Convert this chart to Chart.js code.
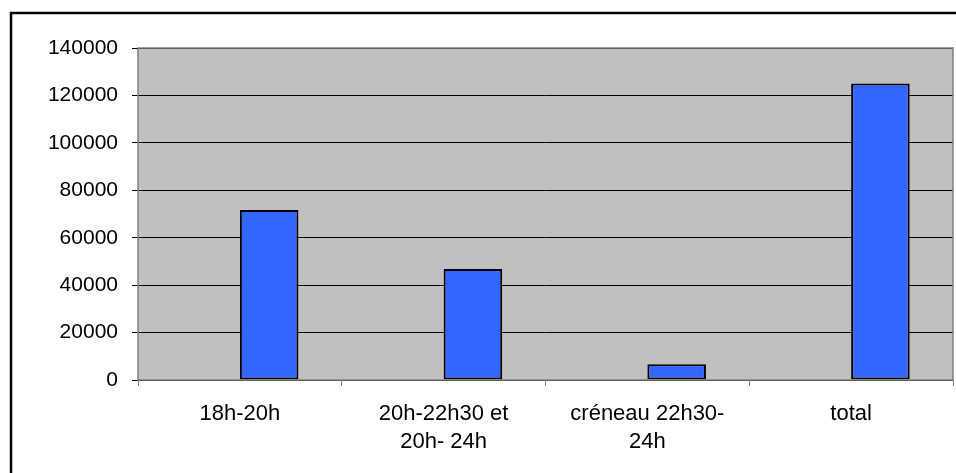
<!DOCTYPE html>
<html>
<head>
<meta charset="utf-8">
<script src="https://cdn.jsdelivr.net/npm/chart.js@4/dist/chart.umd.min.js"></script>
<style>
  html, body { margin: 0; padding: 0; background: #ffffff; }
  #wrap { width: 956px; height: 473px; }
</style>
</head>
<body>
<div id="wrap"><canvas id="graphique" width="956" height="473"></canvas></div>
<script>
// Données
const categories = ['18h-20h', ['20h-22h30 et', '20h- 24h'], ['créneau 22h30-', '24h'], 'total'];
const serieVide = [null, null, null, null];
const valeurs = [71700, 46800, 6600, 125000];
const graduations = [0, 20000, 40000, 60000, 80000, 100000, 120000, 140000];

// fond gris de la zone de tracé + cadre extérieur
const fondPlugin = {
  id: 'fond',
  beforeDraw(chart) {
    const ctx = chart.ctx;
    const a = chart.chartArea;
    ctx.save();
    ctx.fillStyle = '#ffffff';
    ctx.fillRect(0, 0, chart.width, chart.height);
    ctx.fillStyle = '#c0c0c0';
    ctx.fillRect(a.left, a.top, a.right - a.left, a.bottom - a.top);
    ctx.strokeStyle = '#000000';
    ctx.lineWidth = 2.5;
    ctx.beginPath();
    ctx.moveTo(11, 480);
    ctx.lineTo(11, 13);
    ctx.lineTo(970, 13);
    ctx.stroke();
    ctx.restore();
  },
  afterDatasetsDraw(chart) {
    const ctx = chart.ctx;
    const a = chart.chartArea;
    ctx.save();
    ctx.strokeStyle = '#808080';
    ctx.lineWidth = 1.5;
    ctx.strokeRect(a.left, a.top, a.right - a.left, a.bottom - a.top);
    ctx.restore();
  }
};

const canvasGraphique = document.getElementById('graphique').getContext('2d');

const graphique = new Chart(canvasGraphique, {
  type: 'bar',
  data: {
    labels: categories,
    datasets: [
      {
        label: 'vide',
        data: serieVide,
        backgroundColor: '#3366ff'
      },
      {
        label: 'valeurs',
        data: valeurs,
        backgroundColor: '#3366ff',
        borderColor: '#000000',
        borderWidth: 2,
        borderSkipped: false
      }
    ]
  },
  options: {
    responsive: false,
    animation: false,
    layout: { padding: { top: 48, right: 3, bottom: 0, left: 0 } },
    datasets: {
      bar: { categoryPercentage: 0.575, barPercentage: 1 }
    },
    scales: {
      y: {
        min: 0,
        max: 140000,
        afterFit(scale) { scale.width = 138; },
        afterBuildTicks(scale) { scale.ticks = graduations.map(v => ({ value: v })); },
        ticks: {
          color: '#000000',
          padding: 14,
          callback: (v) => String(v),
          font: { family: 'Liberation Sans, Arial', size: 21 }
        },
        grid: { color: '#000000', lineWidth: 1, tickLength: 6 },
        border: { display: false }
      },
      x: {
        afterFit(scale) { scale.height = 93; },
        ticks: {
          color: '#000000',
          padding: 14,
          maxRotation: 0,
          autoSkip: false,
          font: { family: 'Liberation Sans, Arial', size: 22, lineHeight: '28px' }
        },
        grid: { display: true, drawOnChartArea: false, offset: true, color: '#808080', tickLength: 6 },
        border: { display: false }
      }
    },
    plugins: {
      legend: { display: false },
      tooltip: { enabled: false }
    }
  },
  plugins: [fondPlugin]
});
</script>
</body>
</html>
